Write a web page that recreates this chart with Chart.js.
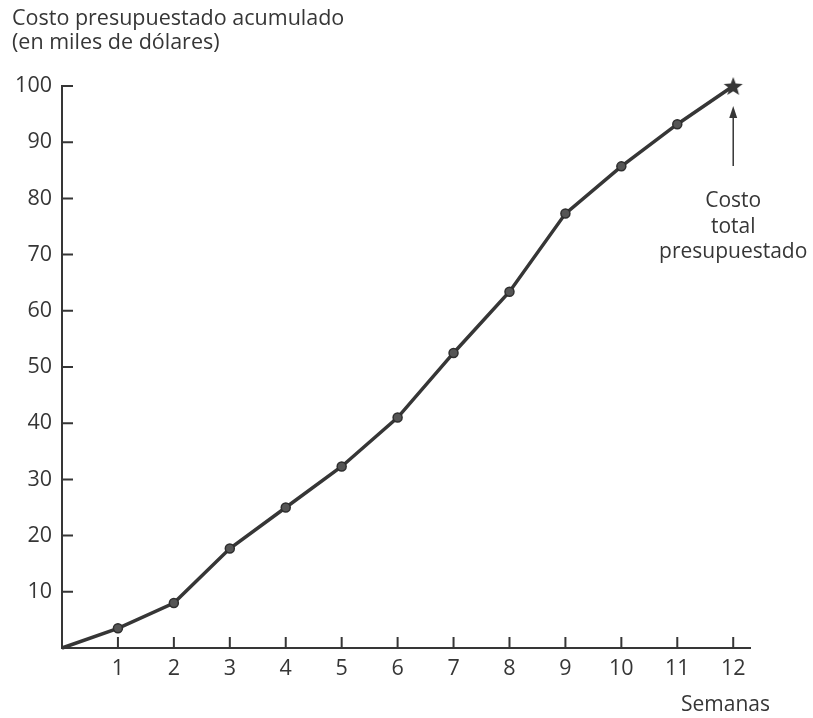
<!DOCTYPE html>
<html>
<head>
<meta charset="utf-8">
<script src="https://cdn.jsdelivr.net/npm/chart.js@4.4.1/dist/chart.umd.min.js"></script>
<style>
  html, body { margin: 0; padding: 0; background: #fff; }
  #wrap { position: relative; width: 813px; height: 718px; }
</style>
</head>
<body>
<div id="wrap"><canvas id="costChart" width="813" height="718"></canvas></div>
<script>
// Datos
const weeks = [0, 1, 2, 3, 4, 5, 6, 7, 8, 9, 10, 11, 12];
const costs = [0, 3.5, 8, 17.7, 25, 32.3, 41, 52.5, 63.4, 77.3, 85.7, 93.2, 100];
const xTicks = [1, 2, 3, 4, 5, 6, 7, 8, 9, 10, 11, 12];
const yTicks = [10, 20, 30, 40, 50, 60, 70, 80, 90, 100];

const yTitle = ['Costo presupuestado acumulado', '(en miles de dólares)'];
const xTitle = 'Semanas';
const noteLines = ['Costo', 'total', 'presupuestado'];

const ink = '#363636';
const font = '"Open Sans", "Noto Sans", sans-serif';

// Estrella rellena para el último punto
function makeStar(size) {
    const c = document.createElement('canvas');
    c.width = size; c.height = size;
    const g = c.getContext('2d');
    const cx = size / 2, cy = size / 2 + 1, R = size / 2 - 1, r = R * 0.42;
    g.beginPath();
    for (let i = 0; i < 10; i++) {
        const a = -Math.PI / 2 + i * Math.PI / 5;
        const rad = i % 2 === 0 ? R : r;
        g.lineTo(cx + rad * Math.cos(a), cy + rad * Math.sin(a));
    }
    g.closePath();
    g.fillStyle = ink;
    g.fill();
    return c;
}
const star = makeStar(22);

const points = weeks.map((w, i) => ({ x: w, y: costs[i] }));
const styles = weeks.map((w, i) => i === 0 ? false : (i === weeks.length - 1 ? star : 'circle'));
const radii = weeks.map((w, i) => i === 0 ? 0 : 4.5);

// Marcas hacia dentro, títulos y anotación
const extras = {
    id: 'extras',
    afterDraw(chart) {
        const ctx = chart.ctx;
        const xs = chart.scales.x, ys = chart.scales.y;
        const area = chart.chartArea;
        ctx.save();
        ctx.strokeStyle = ink;
        ctx.lineWidth = 2;
        ctx.beginPath();
        yTicks.forEach(v => {
            const py = ys.getPixelForValue(v);
            ctx.moveTo(area.left, py);
            ctx.lineTo(area.left + 11, py);
        });
        xTicks.forEach(v => {
            const px = xs.getPixelForValue(v);
            ctx.moveTo(px, area.bottom);
            ctx.lineTo(px, area.bottom - 11);
        });
        ctx.stroke();

        ctx.fillStyle = ink;
        ctx.font = '21.5px ' + font;
        ctx.textAlign = 'left';
        ctx.textBaseline = 'alphabetic';
        ctx.fillText(yTitle[0], 12, 25);
        ctx.fillText(yTitle[1], 12, 49);

        ctx.font = '21px ' + font;
        ctx.textAlign = 'right';
        ctx.fillText(xTitle, 770, 711);

        // flecha hacia el costo total
        const ax = xs.getPixelForValue(weeks[weeks.length - 1]);
        const top = ys.getPixelForValue(costs[costs.length - 1]) + 20;
        ctx.lineWidth = 1.5;
        ctx.beginPath();
        ctx.moveTo(ax, top + 60);
        ctx.lineTo(ax, top + 8);
        ctx.stroke();
        ctx.beginPath();
        ctx.moveTo(ax, top);
        ctx.lineTo(ax - 4, top + 12);
        ctx.lineTo(ax + 4, top + 12);
        ctx.closePath();
        ctx.fill();

        ctx.textAlign = 'center';
        noteLines.forEach((t, i) => ctx.fillText(t, ax, top + 101 + i * 25.5));
        ctx.restore();
    }
};

new Chart(document.getElementById('costChart'), {
    type: 'line',
    data: {
        datasets: [{
            data: points,
            borderColor: ink,
            borderWidth: 3.5,
            pointStyle: styles,
            pointRadius: radii,
            pointBackgroundColor: '#555',
            pointBorderColor: '#2e2e2e',
            pointBorderWidth: 1.5,
            tension: 0,
            clip: false
        }]
    },
    options: {
        responsive: false,
        animation: false,
        events: [],
        layout: { padding: { top: 86, right: 63, left: 0, bottom: 0 } },
        plugins: {
            legend: { display: false },
            tooltip: { enabled: false }
        },
        scales: {
            x: {
                type: 'linear',
                min: 0,
                max: 12.3,
                afterFit(scale) { scale.height = 70; },
                afterBuildTicks(scale) { scale.ticks = xTicks.map(v => ({ value: v })); },
                grid: { display: false, drawTicks: false },
                border: { display: true, color: ink, width: 2 },
                ticks: {
                    color: ink,
                    padding: 8,
                    maxRotation: 0,
                    autoSkip: false,
                    font: { family: font, size: 21.5 }
                }
            },
            y: {
                min: 0,
                max: 100,
                afterFit(scale) { scale.width = 62; },
                afterBuildTicks(scale) { scale.ticks = yTicks.map(v => ({ value: v })); },
                grid: { display: false, drawTicks: false },
                border: { display: true, color: ink, width: 2 },
                ticks: {
                    color: ink,
                    padding: 10,
                    autoSkip: false,
                    font: { family: font, size: 21.5 }
                }
            }
        }
    },
    plugins: [extras]
});
</script>
</body>
</html>
